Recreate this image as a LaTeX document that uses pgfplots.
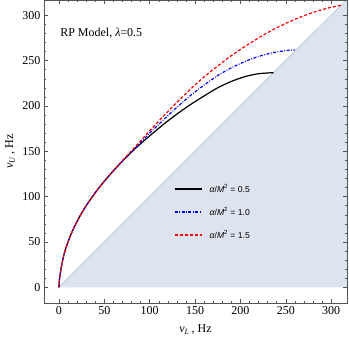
\documentclass[border=0pt]{standalone}
\usepackage{fontspec}
\setmainfont{Liberation Serif}
\newfontfamily\lsans{Liberation Sans}
\usepackage{pgfplots}
\pgfplotsset{compat=1.18}
\definecolor{shade}{RGB}{222,228,239}
\definecolor{diag}{RGB}{165,180,208}
\definecolor{frame}{RGB}{85,85,85}
\begin{document}
\begin{tikzpicture}
\useasboundingbox (-44pt,-37pt) rectangle (305pt,303pt);
\begin{axis}[
  scale only axis, width=303pt, height=303pt,
  xmin=-16.5, xmax=317.5, ymin=-17.3, ymax=316.8,
  xtick={0,50,...,300}, ytick={0,50,...,300},
  minor tick num=4,
  major tick length=4pt, minor tick length=2pt,
  tick style={frame, line width=0.4pt},
  axis line style={frame, line width=0.6pt},
  ticklabel style={font=\fontsize{12}{12}\selectfont},
  /pgf/number format/assume math mode=true,
  xlabel={\textit{ν}\textsubscript{\textit{L}}\,, Hz},
  ylabel={\textit{ν}\textsubscript{\textit{U}}\,, Hz},
  xlabel style={font=\fontsize{12}{12}\selectfont, at={(axis description cs:0.5,-0.089)}, anchor=center},
  ylabel style={font=\fontsize{12}{12}\selectfont, at={(axis description cs:-0.112,0.5)}, anchor=center},
  axis on top,
  legend style={at={(rel axis cs:0.418,0.405)}, anchor=north west, draw=none, fill=none,
    font=\lsans\fontsize{8.6}{10}\selectfont, row sep=9.5pt,
    /tikz/every odd column/.append style={column sep=5pt}},
  legend cell align=left,
  legend image code/.code={\draw[#1] (0pt,0pt) -- (27pt,0pt);},
]
\addplot[fill=shade, draw=none, forget plot] coordinates {(0,0) (330,330) (330,0)} -- cycle;
\addplot[diag, line width=0.5pt, forget plot] coordinates {(0,0) (330,330)};
\node[anchor=west, font=\fontsize{12}{12}\selectfont] at (rel axis cs:0.042,0.891) {RP Model, \textit{λ}=0.5};
\addplot[black, line width=1.2pt, smooth, forget plot] coordinates {
(0,0) (0.3,6) (1,12.5) (3,24.5) (6,38) (10,50) (15,62.5) (22,76.5) (30,90) (40,104.3) (50,117) (60,128.5) (72,141.2) (85,153.8) (100,167) (115,179.5) (130,191) (145,201.5) (160,211) (175,220) (190,227) (205,232.3) (220,235.5) (236.5,236.7)};
\addplot[blue, line width=1.2pt, smooth, dash pattern=on 3pt off 1.5pt on 0.8pt off 1.5pt, forget plot] coordinates {
(0,0) (0.3,6) (1,12.5) (3,24.5) (6,38) (10,50) (15,62.5) (22,76.5) (30,90) (40,104.3) (50,117) (60,128.5) (72,141.2) (85,154.5) (100,170) (115,184.5) (130,198.5) (145,211.5) (160,223) (175,233.5) (190,242) (205,249) (220,254.5) (235,258.5) (250,261) (260,261.8)};
\addplot[red, line width=1.2pt, smooth, dash pattern=on 3pt off 2pt, forget plot] coordinates {
(0,0) (0.3,6) (1,12.5) (3,24.5) (6,38) (10,50) (15,62.5) (22,76.5) (30,90) (40,104.3) (50,117) (60,128.6) (72,142) (85,156) (100,172.5) (115,188.5) (130,204) (145,218.5) (160,232) (175,244) (190,255.5) (205,265.5) (220,275) (235,283.5) (250,291) (265,297.5) (280,303) (295,307.5) (311,311)};
\addlegendimage{black, line width=1.7pt}
\addlegendentry{\textit{α}/\textit{M}\textsuperscript{2} = 0.5}
\addlegendimage{blue, line width=1.7pt, dash pattern=on 3pt off 1.5pt on 0.8pt off 1.5pt}
\addlegendentry{\textit{α}/\textit{M}\textsuperscript{2} = 1.0}
\addlegendimage{red, line width=1.7pt, dash pattern=on 3pt off 2pt}
\addlegendentry{\textit{α}/\textit{M}\textsuperscript{2} = 1.5}
\end{axis}
\end{tikzpicture}
\end{document}
